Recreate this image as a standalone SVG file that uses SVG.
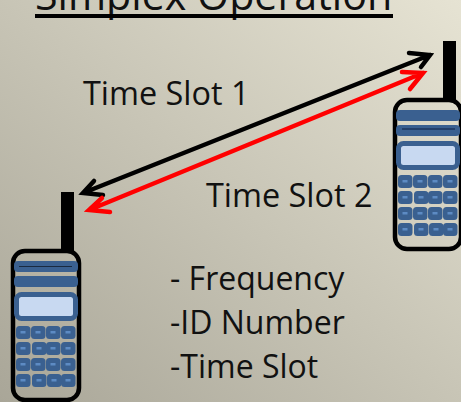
<svg xmlns="http://www.w3.org/2000/svg" xmlns:xlink="http://www.w3.org/1999/xlink" width="461" height="402" viewBox="0 0 461 402">
<style>
text{font-family:"Open Sans","Noto Sans","Liberation Sans",sans-serif;fill:#111;font-size:32.4px}
.band{fill:#3a6090}
.key{fill:#3a6090}
.dot{fill:#5d8bc4}
.arr{fill:none;stroke-width:4.5;stroke-linecap:round;stroke-linejoin:miter}
</style>
<defs>
<linearGradient id="bg" x1="0" y1="1" x2="1" y2="0"><stop offset="0" stop-color="#a9a698"/><stop offset="1" stop-color="#e6e3d3"/></linearGradient>
<g id="k"><rect width="14.5" height="13" rx="3.5" class="key"/><rect x="4.5" y="5" width="5" height="2.5" class="dot"/></g>
<g id="phone">
<rect x="61" y="192" width="13" height="60"/>
<rect x="13" y="251" width="66" height="149" rx="12" fill="none" stroke="#000" stroke-width="4.5"/>
<rect x="14" y="261" width="64" height="11" rx="4" class="band"/>
<rect x="14" y="276" width="64" height="11" rx="4" class="band"/>
<rect x="16.500" y="294.500" width="59" height="24" rx="5" fill="#c8d9f1" stroke="#3a6090" stroke-width="5"/>
<use xlink:href="#k" x="16" y="326"/><use xlink:href="#k" x="31" y="326"/><use xlink:href="#k" x="46" y="326"/><use xlink:href="#k" x="61" y="326"/>
<use xlink:href="#k" x="16" y="342"/><use xlink:href="#k" x="32" y="342"/><use xlink:href="#k" x="46" y="342"/><use xlink:href="#k" x="61" y="342"/>
<use xlink:href="#k" x="16" y="358"/><use xlink:href="#k" x="31" y="358"/><use xlink:href="#k" x="46" y="358"/><use xlink:href="#k" x="61" y="358"/>
<use xlink:href="#k" x="16" y="374"/><use xlink:href="#k" x="32" y="374"/><use xlink:href="#k" x="47" y="374"/><use xlink:href="#k" x="61" y="374"/>
</g>
</defs>
<rect width="461" height="402" fill="url(#bg)"/>
<g id="title"><text x="35" y="10" style="font-size:41.2px">Simplex Operation</text><rect x="35" y="14" width="358" height="4" fill="#000"/></g>
<g id="connectors">
<path class="arr" stroke="#000" d="M83 193L430 55M103 195L83 193L94 181M409 53L430 55L421 67"/>
<path class="arr" stroke="#f00" d="M89 210L423 73M110 212L89 210L102 198M402 72L423 73L410 89"/>
</g>
<g id="phone-left"><use xlink:href="#phone"/><rect x="19" y="266" width="53" height="1" fill="#1a2a40"/></g>
<g id="phone-right"><use xlink:href="#phone" x="382" y="-151"/><rect x="402" y="128" width="53" height="2" fill="#24406a"/></g>
<g id="label-slot1"><text x="83" y="105">Time Slot 1</text></g>
<g id="label-slot2"><text x="206" y="207">Time Slot 2</text></g>
<g id="details"><text x="170" y="290" style="font-size:32px">- Frequency</text><text x="170" y="334" style="font-size:32px">-ID Number</text><text x="170" y="378" style="font-size:32px">-Time Slot</text></g>
</svg>
